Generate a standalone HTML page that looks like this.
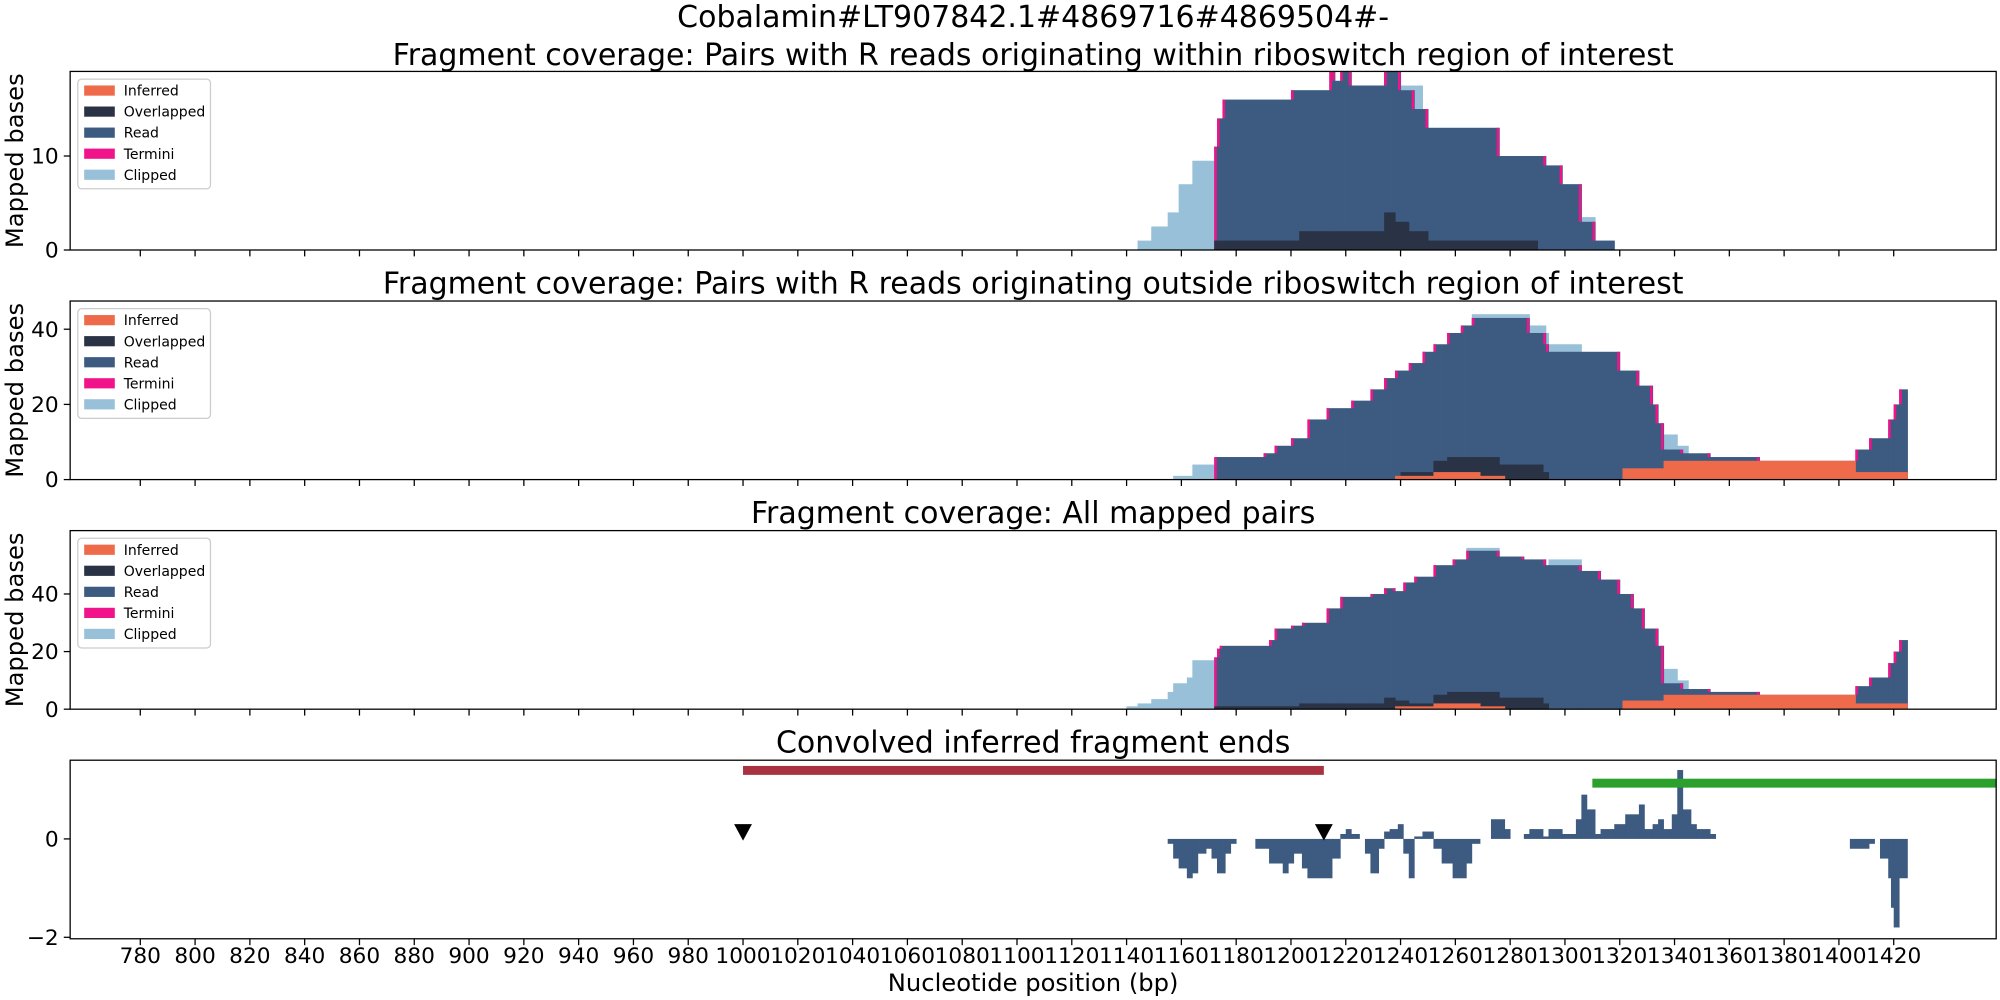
<!DOCTYPE html>
<html><head><meta charset="utf-8">
<style>
html,body{margin:0;padding:0;background:#fff;}
svg{display:block;font-family:"DejaVu Sans","Liberation Sans",sans-serif;}
</style></head>
<body>
<svg id="chart" width="2000" height="1000" viewBox="0 0 1568 784" preserveAspectRatio="none" xmlns="http://www.w3.org/2000/svg">
<text x="810" y="21" font-size="23.5" text-anchor="middle">Cobalamin#LT907842.1#4869716#4869504#-</text>
<text x="810" y="51" font-size="23.5" text-anchor="middle">Fragment coverage: Pairs with R reads originating within riboswitch region of interest</text>
<text x="810" y="230" font-size="23.5" text-anchor="middle">Fragment coverage: Pairs with R reads originating outside riboswitch region of interest</text>
<text x="810" y="410" font-size="23.5" text-anchor="middle">Fragment coverage: All mapped pairs</text>
<text x="810" y="590" font-size="23.5" text-anchor="middle">Convolved inferred fragment ends</text>
<text x="810" y="777" font-size="19" text-anchor="middle">Nucleotide position (bp)</text>
<g id="plots"></g>
</svg>
<script>
// ---- data ----
const xTicks = [780,800,820,840,860,880,900,920,940,960,980,1000,1020,1040,1060,1080,1100,1120,1140,1160,1180,1200,1220,1240,1260,1280,1300,1320,1340,1360,1380,1400,1420];
const xMin = 754.4, xMax = 1457.4;

const p1ClipStarts = [1144,1149,1155,1159,1164,1172,1173,1175,1200,1214,1216,1218,1222,1234,1240,1248,1250,1276,1293,1299,1306,1311,1318];
const p1ClipValues = [1,2.5,4,7,9.5,11,14,16,17,19,18,19,17.5,19,17.5,15,13,10,9,7,3.5,1,0];
const p1ReadStarts = [1172,1173,1175,1200,1214,1216,1218,1222,1234,1240,1245,1250,1276,1293,1299,1306,1311,1318];
const p1ReadValues = [11,14,16,17,19,18,19,17.5,19,17,15,13,10,9,7,3,1,0];
const p1OvlStarts = [1172,1203,1234,1238,1243,1250,1290];
const p1OvlValues = [1,2,4,3,2,1,0];
const p1InfStarts = [];
const p1InfValues = [];

const p2ClipStarts = [1157,1164,1172,1266,1287,1293,1294,1306,1336,1341,1345];
const p2ClipValues = [1,4,0,44,41,39,36,0,12,9,0];
const p2ReadStarts = [1172,1190,1194,1200,1206,1213,1222,1229,1234,1238,1243,1248,1252,1257,1262,1266,1271,1287,1293,1294,1320,1327,1332,1334,1336,1343,1353,1371,1406,1411,1418,1420,1422,1425];
const p2ReadValues = [6,7,9,11,16,19,21,24,27,29,31,34,36,39,41,43,43,39,36,34,29,25,20,15,8,7,6,5,8,11,16,20,24,0];
const p2OvlStarts = [1240,1252,1257,1276,1292,1294];
const p2OvlValues = [2,5,6,4,2,0];
const p2InfStarts = [1238,1252,1269,1278,1321,1336,1406,1425];
const p2InfValues = [1,2,1,0,3,5,2,0];

const p3ClipStarts = [1140,1144,1149,1155,1157,1162,1164,1172,1264,1276,1294,1306,1336,1341,1345];
const p3ClipValues = [1,2,3.5,6,9,11,17,0,56,0,52,0,14,10,0];
const p3ReadStarts = [1172,1173,1174,1176,1192,1194,1200,1204,1213,1218,1229,1234,1238,1241,1245,1252,1259,1264,1276,1285,1293,1294,1306,1313,1320,1325,1329,1334,1336,1343,1353,1371,1406,1411,1418,1420,1422,1425];
const p3ReadValues = [18,21,22,22,24,28,29,30,35,39,40,42,41,44,46,50,52,55,53,52,50,50,48,45,40,35,28,22,9,7,6,5,8,11,16,20,24,0];
const p3OvlStarts = [1172,1203,1234,1238,1243,1252,1257,1276,1292,1294];
const p3OvlValues = [1,2,4,3,2,5,6,4,2,0];
const p3InfStarts = [1238,1252,1269,1278,1321,1336,1406,1425];
const p3InfValues = [1,2,1,0,3,5,2,0];

const convStarts = [1155,1157,1159,1162,1164,1166,1169,1171,1173,1176,1178,1187,1192,1197,1199,1201,1204,1206,1215,1218,1220,1222,1227,1229,1232,1234,1236,1239,1241,1243,1245,1248,1252,1255,1259,1264,1266,1273,1278,1285,1287,1292,1294,1299,1304,1306,1308,1311,1313,1318,1322,1327,1329,1332,1334,1336,1339,1341,1343,1346,1348,1353,1404,1411,1415,1418,1419,1420,1422];
const convEnds   = [1157,1159,1162,1164,1166,1169,1171,1173,1176,1178,1180,1192,1197,1199,1201,1204,1206,1215,1218,1220,1222,1225,1229,1232,1234,1236,1239,1241,1243,1245,1248,1252,1255,1259,1264,1266,1269,1278,1280,1287,1292,1294,1299,1304,1306,1308,1311,1313,1318,1322,1327,1329,1332,1334,1336,1339,1341,1343,1346,1348,1353,1355,1411,1413,1418,1419,1420,1422,1425];
const convValues = [-0.1,-0.4,-0.6,-0.8,-0.7,-0.3,-0.2,-0.4,-0.7,-0.3,-0.1,-0.2,-0.5,-0.7,-0.5,-0.3,-0.6,-0.8,-0.4,0.1,0.2,0.1,-0.3,-0.7,-0.2,0.15,0.2,0.3,-0.3,-0.8,0.05,0.15,-0.2,-0.5,-0.8,-0.5,-0.1,0.4,0.2,0.1,0.2,0.05,0.2,0.1,0.4,0.9,0.6,0.1,0.2,0.3,0.5,0.7,0.2,0.3,0.4,0.2,0.5,1.4,0.6,0.3,0.2,0.1,-0.2,-0.1,-0.4,-0.8,-1.4,-1.8,-0.8];
const regionRed = [1000,1212];
const regionGreen = [1310,1457.4];
const markerPositions = [1000,1212];
const markerValue = 0.12;

// ---- drawing ----
const NS = "http://www.w3.org/2000/svg";
const root = document.getElementById('plots');
const L = 55, R = 1565;
const C = {inf:'#ee6a4b', ovl:'#2a3345', read:'#3d5a80', term:'#f0138a', clip:'#98c1d9'};
function X(bp){ return L + (bp - xMin) / (xMax - xMin) * (R - L); }
function mk(tag, attrs, parent){ const e = document.createElementNS(NS, tag); for (const k in attrs) e.setAttribute(k, attrs[k]); (parent||root).appendChild(e); return e; }

const panels = [
  {top:56, bot:196, ymax:19, ticks:[0,10], clip:[p1ClipStarts,p1ClipValues], read:[p1ReadStarts,p1ReadValues], ovl:[p1OvlStarts,p1OvlValues], inf:[p1InfStarts,p1InfValues], name:'panel1'},
  {top:236, bot:376, ymax:47.5, ticks:[0,20,40], clip:[p2ClipStarts,p2ClipValues], read:[p2ReadStarts,p2ReadValues], ovl:[p2OvlStarts,p2OvlValues], inf:[p2InfStarts,p2InfValues], name:'panel2'},
  {top:416, bot:556, ymax:62, ticks:[0,20,40], clip:[p3ClipStarts,p3ClipValues], read:[p3ReadStarts,p3ReadValues], ovl:[p3OvlStarts,p3OvlValues], inf:[p3InfStarts,p3InfValues], name:'panel3'}
];

function steps(g, s, v, Y, color, nm){
  for (let i = 0; i < s.length - 1; i++){
    if (!v[i]) continue;
    const x1 = X(s[i]), x2 = X(s[i+1]);
    const r = mk('rect', {x:x1, y:Y(v[i]), width:Math.max(0.5, x2-x1+0.4), height:Y(0)-Y(v[i]), fill:color}, g);
    
    
  }
}

panels.forEach(p => {
  const g = mk('g', {});
  
  
  const Y = v => p.bot - v / p.ymax * (p.bot - p.top);
  steps(g, p.clip[0], p.clip[1], Y, C.clip, 'clipped-bar');
  steps(g, p.read[0], p.read[1], Y, C.read, 'read-bar');
  const s = p.read[0], v = p.read[1];
  for (let i = 0; i < s.length - 1; i++){
    const prev = i === 0 ? 0 : v[i-1];
    if (v[i] === prev) continue;
    const hi = Math.max(v[i], prev), lo = Math.min(v[i], prev);
    const xe = X(s[i]) + (v[i] > prev ? 0 : -2);
    const t = mk('rect', {x:xe, y:Y(hi), width:2, height:Y(lo)-Y(hi), fill:C.term}, g);
    
    
  }
  steps(g, p.ovl[0], p.ovl[1], Y, C.ovl, 'overlapped-bar');
  steps(g, p.inf[0], p.inf[1], Y, C.inf, 'inferred-bar');
  const fr = mk('rect', {x:L, y:p.top, width:R-L, height:p.bot-p.top, fill:'none', stroke:'#000', 'stroke-width':1}, g);
  
  
  p.ticks.forEach(t => {
    mk('line', {x1:L-5, x2:L, y1:Y(t), y2:Y(t), stroke:'#000', 'stroke-width':1}, g);
    const tl = mk('text', {x:L-9, y:Y(t)+6, 'font-size':17, 'text-anchor':'end'}, g);
    tl.textContent = t;
    
    
  });
  xTicks.forEach(t => mk('line', {x1:X(t), x2:X(t), y1:p.bot, y2:p.bot+5, stroke:'#000', 'stroke-width':1}, g));
  const yl = mk('text', {x:0, y:0, 'font-size':19, 'text-anchor':'middle', transform:`translate(18 ${(p.top+p.bot)/2}) rotate(-90)`}, g);
  yl.textContent = 'Mapped bases';
  
  
  const lg = mk('g', {}, g);
  
  
  mk('rect', {x:61, y:p.top+6, width:104, height:86, rx:3, fill:'#fff', stroke:'#ccc'}, lg);
  [['Inferred',C.inf],['Overlapped',C.ovl],['Read',C.read],['Termini',C.term],['Clipped',C.clip]].forEach((e,i) => {
    const yy = p.top + 15 + i*16.5;
    const sw = mk('rect', {x:66, y:yy-4, width:24, height:8, fill:e[1]}, lg);
    
    
    const tx = mk('text', {x:97, y:yy+4, 'font-size':11}, lg);
    tx.textContent = e[0];
    
    
  });
});

(function(){
  const top = 596, bot = 736, ymin = -2.03, ymax = 1.6;
  const Y = v => bot - (v - ymin) / (ymax - ymin) * (bot - top);
  const g = mk('g', {});
  
  
  for (let i = 0; i < convStarts.length; i++){
    const x1 = X(convStarts[i]), x2 = X(convEnds[i]);
    const y0 = Y(0), y1 = Y(convValues[i]);
    const b = mk('rect', {x:x1, y:Math.min(y0,y1), width:x2-x1+0.3, height:Math.abs(y1-y0), fill:C.read}, g);
    
    
  }
  const rr = mk('rect', {x:X(regionRed[0]), y:600.5, width:X(regionRed[1])-X(regionRed[0]), height:7, fill:'#a8323f'}, g);
  
  
  const gr = mk('rect', {x:X(regionGreen[0]), y:610.5, width:X(regionGreen[1])-X(regionGreen[0]), height:7, fill:'#2ca02c'}, g);
  
  
  markerPositions.forEach(m => {
    const cx = X(m), cy = Y(markerValue);
    const tri = mk('path', {d:`M${cx-7} ${cy-7} L${cx+7} ${cy-7} L${cx} ${cy+6} Z`, fill:'#000'}, g);
    
    
  });
  const fr = mk('rect', {x:L, y:top, width:R-L, height:bot-top, fill:'none', stroke:'#000', 'stroke-width':1}, g);
  
  
  [-2,0].forEach(t => {
    mk('line', {x1:L-5, x2:L, y1:Y(t), y2:Y(t), stroke:'#000', 'stroke-width':1}, g);
    const tl = mk('text', {x:L-9, y:Y(t)+6, 'font-size':17, 'text-anchor':'end'}, g);
    tl.textContent = t < 0 ? '\u22122' : String(t);
    
    
  });
  xTicks.forEach(t => {
    mk('line', {x1:X(t), x2:X(t), y1:bot, y2:bot+5, stroke:'#000', 'stroke-width':1}, g);
    const tl = mk('text', {x:X(t), y:bot+19, 'font-size':17, 'text-anchor':'middle'}, g);
    tl.textContent = t;
    
    
  });
})();
</script>
</body></html>
